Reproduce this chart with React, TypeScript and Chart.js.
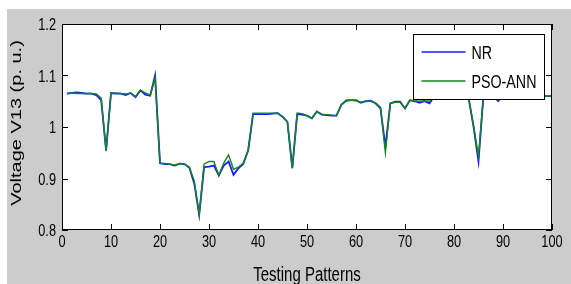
import React, { useEffect, useRef } from "react";
import { Chart, registerables } from "chart.js";

Chart.register(...registerables);

const patterns: number[] = Array.from({ length: 100 }, (_, k) => k + 1);

const nrValues: number[] = [
  1.065, 1.066, 1.067, 1.066, 1.065, 1.065, 1.062, 1.052, 0.955, 1.066,
  1.065, 1.065, 1.062, 1.066, 1.058, 1.071, 1.063, 1.061, 1.1, 0.93,
  0.928, 0.928, 0.925, 0.929, 0.928, 0.921, 0.89, 0.829, 0.922, 0.923,
  0.925, 0.906, 0.925, 0.933, 0.907, 0.92, 0.928, 0.955, 1.025, 1.025,
  1.025, 1.025, 1.026, 1.027, 1.02, 1.01, 0.92, 1.025, 1.024, 1.022,
  1.017, 1.03, 1.024, 1.023, 1.022, 1.022, 1.043, 1.051, 1.052, 1.052,
  1.047, 1.05, 1.051, 1.046, 1.036, 0.962, 1.046, 1.049, 1.049, 1.036,
  1.052, 1.05, 1.047, 1.05, 1.046, 1.06, 1.061, 1.06, 1.06, 1.061,
  1.06, 1.06, 1.055, 1.0, 0.933, 1.06, 1.062, 1.062, 1.05, 1.06,
  1.06, 1.061, 1.06, 1.06, 1.06, 1.061, 1.06, 1.06, 1.06, 1.06,
];

const psoAnnValues: number[] = [
  1.065, 1.066, 1.065, 1.065, 1.065, 1.065, 1.064, 1.056, 0.953, 1.066,
  1.066, 1.065, 1.064, 1.066, 1.059, 1.072, 1.066, 1.062, 1.094, 0.929,
  0.929, 0.928, 0.926, 0.929, 0.928, 0.922, 0.895, 0.832, 0.928, 0.933,
  0.933, 0.906, 0.93, 0.946, 0.918, 0.922, 0.93, 0.955, 1.027, 1.027,
  1.027, 1.027, 1.027, 1.027, 1.02, 1.01, 0.92, 1.027, 1.026, 1.022,
  1.017, 1.03, 1.025, 1.024, 1.023, 1.022, 1.043, 1.052, 1.052, 1.051,
  1.048, 1.05, 1.05, 1.047, 1.038, 0.95, 1.046, 1.048, 1.048, 1.036,
  1.052, 1.051, 1.05, 1.051, 1.05, 1.06, 1.061, 1.06, 1.06, 1.061,
  1.06, 1.06, 1.055, 1.002, 0.943, 1.06, 1.062, 1.062, 1.052, 1.06,
  1.06, 1.061, 1.06, 1.06, 1.06, 1.061, 1.06, 1.06, 1.06, 1.06,
];

const xTicks: number[] = [0, 10, 20, 30, 40, 50, 60, 70, 80, 90, 100];
const yTicks: number[] = [0.8, 0.9, 1.0, 1.1, 1.2];
const seriesLabels: string[] = ["NR", "PSO-ANN"];
const seriesColors: string[] = ["#1a1aff", "#11881a"];
const xTitle = "Testing Patterns";
const yTitle = "Voltage V13 (p. u.)";

const FONT = "'Liberation Sans', Arial, sans-serif";
const SQ = 0.75; // horizontal squeeze of the original picture

function squeezedText(ctx: CanvasRenderingContext2D, text: string, x: number, y: number, size: number, align: "left" | "center" | "right") {
  ctx.save();
  ctx.font = size + "px " + FONT;
  ctx.textAlign = align;
  ctx.textBaseline = "alphabetic";
  ctx.fillStyle = "#000000";
  ctx.translate(x, y);
  ctx.scale(SQ, 1);
  ctx.fillText(text, 0, 0);
  ctx.restore();
}

const matlabPlugin = {
  id: "matlabStyle",
  beforeDraw(chart: any) {
    const { ctx, chartArea, width, height } = chart;
    ctx.save();
    ctx.fillStyle = "#ffffff";
    ctx.fillRect(0, 0, width, height);
    ctx.fillStyle = "#cccccc";
    ctx.fillRect(7, 9, width - 7, height - 9);
    ctx.fillStyle = "#ffffff";
    ctx.fillRect(chartArea.left, chartArea.top, chartArea.right - chartArea.left, chartArea.bottom - chartArea.top);
    ctx.restore();
  },
  afterDatasetsDraw(chart: any) {
    const { ctx, chartArea } = chart;
    const xs = chart.scales.x;
    const ys = chart.scales.y;
    const L = chartArea.left, R = chartArea.right, T = chartArea.top, B = chartArea.bottom;
    const tl = 6;
    ctx.save();
    ctx.strokeStyle = "#000000";
    ctx.lineWidth = 1;
    ctx.beginPath();
    for (const t of xs.ticks) {
      const px = Math.round(xs.getPixelForValue(t.value)) + 0.5;
      ctx.moveTo(px, B);
      ctx.lineTo(px, B - tl);
      ctx.moveTo(px, T);
      ctx.lineTo(px, T + tl);
    }
    for (const t of ys.ticks) {
      const py = Math.round(ys.getPixelForValue(t.value)) + 0.5;
      ctx.moveTo(L, py);
      ctx.lineTo(L + tl, py);
      ctx.moveTo(R, py);
      ctx.lineTo(R - tl, py);
    }
    ctx.stroke();
    ctx.strokeRect(Math.round(L) + 0.5, Math.round(T) + 0.5, Math.round(R - L) - 1, Math.round(B - T) - 1);

    // tick labels
    for (const t of xs.ticks) {
      squeezedText(ctx, String(t.value), xs.getPixelForValue(t.value), B + 16.5, 17, "center");
    }
    for (const t of ys.ticks) {
      const lbl = String(Math.round(Number(t.value) * 10) / 10);
      squeezedText(ctx, lbl, L - 6, ys.getPixelForValue(t.value) + 6, 17, "right");
    }
    // axis titles
    squeezedText(ctx, xTitle, (L + R) / 2, 281, 20, "center");
    ctx.save();
    ctx.translate(21, (T + B) / 2 - 4);
    ctx.rotate(-Math.PI / 2);
    ctx.scale(1, SQ);
    ctx.font = "20px " + FONT;
    ctx.textAlign = "center";
    ctx.textBaseline = "alphabetic";
    ctx.fillStyle = "#000000";
    ctx.fillText(yTitle, 0, 0);
    ctx.restore();

    // legend
    const lw = 131, lh = 65;
    const lx = Math.round(R - 8 - lw) + 0.5;
    const ly = Math.round(T + 10) + 0.5;
    ctx.fillStyle = "#ffffff";
    ctx.fillRect(lx, ly, lw, lh);
    ctx.strokeStyle = "#000000";
    ctx.lineWidth = 1;
    ctx.strokeRect(lx, ly, lw, lh);
    chart.data.datasets.forEach((ds: any, i: number) => {
      const yy = ly + 17.5 + i * 29;
      ctx.strokeStyle = ds.borderColor;
      ctx.lineWidth = 1.5;
      ctx.beginPath();
      ctx.moveTo(lx + 8, yy);
      ctx.lineTo(lx + 52, yy);
      ctx.stroke();
      squeezedText(ctx, ds.label, lx + 58, yy + 7, 19, "left");
    });
    ctx.restore();
  },
};

export default function App() {
  const ref = useRef<HTMLCanvasElement | null>(null);
  useEffect(() => {
    document.body.style.margin = "0";
    const canvas = ref.current;
    if (!canvas) return;
    const chart = new Chart(canvas, {
      type: "line",
      data: {
        datasets: [
          {
            label: seriesLabels[0],
            data: patterns.map((p, i) => ({ x: p, y: nrValues[i] })),
            borderColor: seriesColors[0],
            backgroundColor: seriesColors[0],
            borderWidth: 1.8,
            pointRadius: 0,
            tension: 0,
            order: 2,
          },
          {
            label: seriesLabels[1],
            data: patterns.map((p, i) => ({ x: p, y: psoAnnValues[i] })),
            borderColor: seriesColors[1],
            backgroundColor: seriesColors[1],
            borderWidth: 1.4,
            pointRadius: 0,
            tension: 0,
            order: 1,
          },
        ],
      },
      options: {
        responsive: false,
        animation: false,
        devicePixelRatio: 1,
        layout: { padding: { left: 0, top: 24, right: 19, bottom: 0 } },
        plugins: { legend: { display: false }, tooltip: { enabled: false } },
        scales: {
          x: {
            type: "linear",
            min: 0,
            max: 100,
            afterFit: (s: any) => { s.height = 54; },
            afterBuildTicks: (s: any) => { s.ticks = xTicks.map((v) => ({ value: v })); },
            grid: { display: false, drawTicks: false },
            border: { display: false },
            ticks: { display: false },
            title: { display: false, text: xTitle },
          },
          y: {
            min: 0.8,
            max: 1.2,
            afterFit: (s: any) => { s.width = 62; },
            afterBuildTicks: (s: any) => { s.ticks = yTicks.map((v) => ({ value: v })); },
            grid: { display: false, drawTicks: false },
            border: { display: false },
            ticks: { display: false },
            title: { display: false, text: yTitle },
          },
        },
      },
      plugins: [matlabPlugin],
    });
    return () => chart.destroy();
  }, []);
  return <canvas ref={ref} width={571} height={284} style={{ display: "block", width: 571, height: 284 }} />;
}
